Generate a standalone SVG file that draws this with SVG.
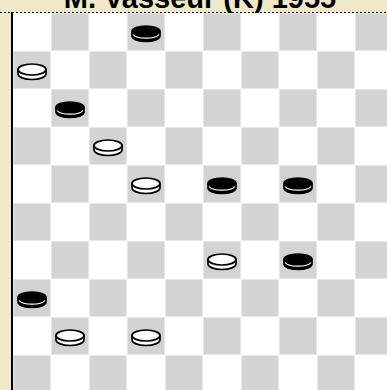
<svg xmlns="http://www.w3.org/2000/svg" xmlns:xlink="http://www.w3.org/1999/xlink" width="387" height="390" viewBox="0 0 387 390">
  <style>
    .dark { fill: #d3d3d3; stroke: #e6e6e6; stroke-width: 1; }
    .title { font-family: "Liberation Sans", Arial, sans-serif; font-weight: bold; font-size: 29px; fill: #000; }
    .pw { fill: #ffffff; stroke: #000; stroke-width: 1.7; }
    .pb { fill: #000000; stroke: #000; stroke-width: 1.7; }
    .pbl { fill: none; stroke: #ffffff; stroke-width: 1.2; }
  </style>
  <defs>
    <g id="white">
      <path class="pw" d="M5,18.5 L5,23 A14,5.5 0 0 0 33,23 L33,18.5 Z"/>
      <ellipse class="pw" cx="19" cy="18.5" rx="14" ry="5.5"/>
    </g>
    <g id="black">
      <path class="pb" d="M5,18.5 L5,23 A14,5.5 0 0 0 33,23 L33,18.5 Z"/>
      <ellipse class="pb" cx="19" cy="18.5" rx="14" ry="5.5"/>
      <path class="pbl" d="M6,21.5 A13.5,5 0 0 0 32,21.5"/>
    </g>
    <pattern id="board" x="13" y="13" width="76" height="76" patternUnits="userSpaceOnUse">
      <rect x="0" y="0" width="76" height="76" fill="#ffffff"/>
      <rect class="dark" x="38.5" y="0.5" width="37" height="37"/>
      <rect class="dark" x="0.5" y="38.5" width="37" height="37"/>
    </pattern>
  </defs>
  <rect x="0" y="0" width="387" height="390" fill="#efe8c9"/>
  <text class="title" x="200" y="8" text-anchor="middle">M. Vasseur (K) 1955</text>
  <g id="board-squares">
    <rect x="13" y="13" width="374" height="377" fill="url(#board)"/>
  </g>
  <line x1="0" y1="12.5" x2="387" y2="12.5" stroke="#000" stroke-width="1" stroke-dasharray="2,2"/>
  <line x1="12" y1="12" x2="12" y2="390" stroke="#000" stroke-width="2"/>
  <g id="pieces">
    <use id="b-r0c3" xlink:href="#black" x="127" y="13"/>
    <use id="w-r1c0" xlink:href="#white" x="13" y="51"/>
    <use id="b-r2c1" xlink:href="#black" x="51" y="89"/>
    <use id="w-r3c2" xlink:href="#white" x="89" y="127"/>
    <use id="w-r4c3" xlink:href="#white" x="127" y="165"/>
    <use id="b-r4c5" xlink:href="#black" x="203" y="165"/>
    <use id="b-r4c7" xlink:href="#black" x="279" y="165"/>
    <use id="w-r6c5" xlink:href="#white" x="203" y="241"/>
    <use id="b-r6c7" xlink:href="#black" x="279" y="241"/>
    <use id="b-r7c0" xlink:href="#black" x="13" y="279"/>
    <use id="w-r8c1" xlink:href="#white" x="51" y="317"/>
    <use id="w-r8c3" xlink:href="#white" x="127" y="317"/>
  </g>
</svg>
